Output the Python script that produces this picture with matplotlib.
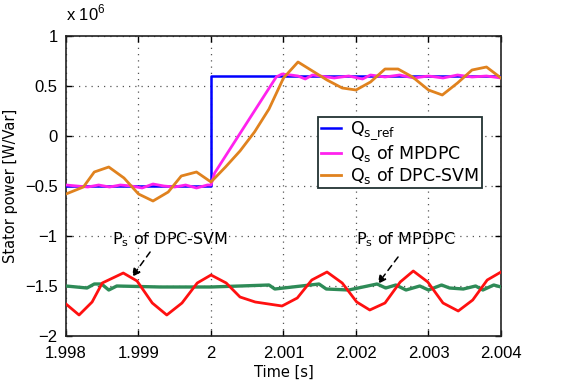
import matplotlib
matplotlib.use("Agg")
import matplotlib.pyplot as plt
import numpy as np

# ---------------- data (values in units of 1e6) ----------------
t_ref = [1.998, 2.0, 2.0, 2.004]
q_ref = [-0.5, -0.5, 0.6, 0.6]

t_mp = [1.998, 1.99815, 1.9983, 1.99845, 1.9986, 1.99875, 1.9989, 1.99905, 1.9992,
        1.99935, 1.9995, 1.99965, 1.9998, 1.99995, 2.0, 2.00005, 2.0009, 2.00098,
        2.0011, 2.0012, 2.0013, 2.0014, 2.0015, 2.0017, 2.0019, 2.00209, 2.0022,
        2.0024, 2.0026, 2.0028, 2.003, 2.0032, 2.0034, 2.0036, 2.0038, 2.004]
q_mp = [-0.49, -0.50, -0.51, -0.49, -0.51, -0.49, -0.50, -0.52, -0.48,
        -0.50, -0.51, -0.49, -0.52, -0.49, -0.49, -0.37, 0.59, 0.62,
        0.61, 0.60, 0.57, 0.61, 0.60, 0.58, 0.60, 0.57, 0.61,
        0.59, 0.61, 0.58, 0.60, 0.58, 0.61, 0.59, 0.60, 0.58]

t_svm = [1.998, 1.99824, 1.99839, 1.99859, 1.9988, 1.999, 1.9992, 1.99941, 1.99959,
         1.9998, 2.0, 2.0002, 2.0004, 2.0006, 2.0008, 2.001, 2.0012, 2.0016, 2.00181,
         2.002, 2.0022, 2.0024, 2.00258, 2.00278, 2.003, 2.00319, 2.0034, 2.0036,
         2.0038, 2.004]
q_svm = [-0.58, -0.51, -0.36, -0.31, -0.42, -0.58, -0.65, -0.56, -0.40,
         -0.36, -0.46, -0.31, -0.15, 0.04, 0.27, 0.58, 0.74, 0.56, 0.48,
         0.46, 0.54, 0.67, 0.67, 0.59, 0.46, 0.41, 0.53, 0.66,
         0.69, 0.58]

t_psvm = [1.998, 1.99818, 1.99836, 1.9985, 1.99879, 1.99898, 1.99919, 1.99939, 1.9996,
          1.99981, 2.0, 2.00021, 2.0004, 2.00061, 2.00098, 2.00119, 2.00139, 2.0016,
          2.00181, 2.00201, 2.00219, 2.0024, 2.00261, 2.00279, 2.00299, 2.0032,
          2.00341, 2.00361, 2.00381, 2.004]
p_svm = [-1.68, -1.79, -1.66, -1.47, -1.37, -1.45, -1.67, -1.79, -1.67,
         -1.47, -1.39, -1.47, -1.61, -1.66, -1.70, -1.62, -1.44, -1.36,
         -1.47, -1.66, -1.74, -1.67, -1.46, -1.35, -1.46, -1.67,
         -1.75, -1.64, -1.44, -1.36]

t_pmp = [1.998, 1.99829, 1.99839, 1.99849, 1.99859, 1.9987, 1.9993, 2.0, 2.0004,
         2.0008, 2.00088, 2.00149, 2.00159, 2.0019, 2.00229, 2.00241, 2.00255,
         2.00269, 2.00288, 2.003, 2.00318, 2.00329, 2.00348, 2.00365, 2.00375,
         2.0039, 2.004]
p_mp = [-1.50, -1.52, -1.48, -1.48, -1.54, -1.50, -1.51, -1.51, -1.50,
        -1.49, -1.53, -1.48, -1.53, -1.54, -1.48, -1.52, -1.49,
        -1.54, -1.50, -1.54, -1.49, -1.52, -1.53, -1.50, -1.54,
        -1.49, -1.51]

x_ticks = [1.998, 1.999, 2.0, 2.001, 2.002, 2.003, 2.004]
x_ticklabels = ["1.998", "1.999", "2", "2.001", "2.002", "2.003", "2.004"]
y_ticks = [-2, -1.5, -1, -0.5, 0, 0.5, 1]
y_ticklabels = ["\u22122", "\u22121.5", "\u22121", "\u22120.5", "0", "0.5", "1"]

# ---------------- figure ----------------
W, H = 587, 381
fig = plt.figure(figsize=(W / 100, H / 100), dpi=100)
ax = fig.add_axes([66 / W, 1 - 336 / H, 435 / W, 300 / H])

ax.plot(t_ref, q_ref, color="#0000FF", lw=1.8, label=r"Q$_{\mathregular{s\_ref}}$", zorder=3)
ax.plot(t_mp, q_mp, color="#FF22EE", lw=2.0, label=r"Q$_{\mathregular{s}}$ of MPDPC", zorder=4)
ax.plot(t_svm, q_svm, color="#E0821E", lw=2.0, label=r"Q$_{\mathregular{s}}$ of DPC-SVM", zorder=5)
ax.plot(t_pmp, p_mp, color="#2E8B57", lw=2.4, zorder=3)
ax.plot(t_psvm, p_svm, color="#FF1010", lw=2.0, zorder=4)

ax.set_xlim(1.998, 2.004)
ax.set_ylim(-2, 1)
ax.set_xticks(x_ticks)
ax.set_xticklabels(x_ticklabels, family="Liberation Sans", fontsize=12)
ax.set_yticks(y_ticks)
ax.set_yticklabels(y_ticklabels, family="Liberation Sans", fontsize=12)
ax.tick_params(direction="in", top=True, right=True, length=4, width=1.0)
ax.tick_params(axis="x", pad=7)
ax.tick_params(axis="y", pad=6)
ax.grid(True, linestyle=(0, (1, 4)), color="#555555", linewidth=0.9)
for s in ax.spines.values():
    s.set_linewidth(1.2)
    s.set_color("#222222")

ax.set_xlabel("Time [s]", family="DejaVu Sans", fontsize=10.5, labelpad=3)
ax.set_ylabel("Stator power [W/Var]", family="DejaVu Sans", fontsize=10.5, labelpad=5)

fig.text(66 / W, 1 - 20 / H, r"x 10$^{\mathregular{6}}$", family="Liberation Sans",
         fontsize=12, ha="left", va="baseline")

leg = ax.legend(loc="upper left", bbox_to_anchor=((318 - 66) / 435, (336 - 117) / 300),
                prop={"family": "DejaVu Sans", "size": 12.5}, fancybox=False,
                framealpha=1, edgecolor="#223333", handlelength=1.2,
                handletextpad=0.5, borderpad=0.15, labelspacing=0.05,
                borderaxespad=0)
leg.get_frame().set_linewidth(1.3)
leg.set_zorder(10)

arrow_kw = dict(arrowstyle="-|>", linestyle=(0, (4, 3)), color="black",
                lw=1.1, shrinkA=0, shrinkB=0, mutation_scale=12)
ax.text(1.99943, -1.04, r"P$_{\mathregular{s}}$ of DPC-SVM", ha="center", va="center",
        family="DejaVu Sans", fontsize=11.5)
ax.annotate("", xy=(1.99891, -1.41), xytext=(1.99916, -1.16), arrowprops=arrow_kw)
ax.text(2.00269, -1.04, r"P$_{\mathregular{s}}$ of MPDPC", ha="center", va="center",
        family="DejaVu Sans", fontsize=11.5)
ax.annotate("", xy=(2.0023, -1.48), xytext=(2.00258, -1.21), arrowprops=arrow_kw)

fig.savefig("out.png", dpi=100)
